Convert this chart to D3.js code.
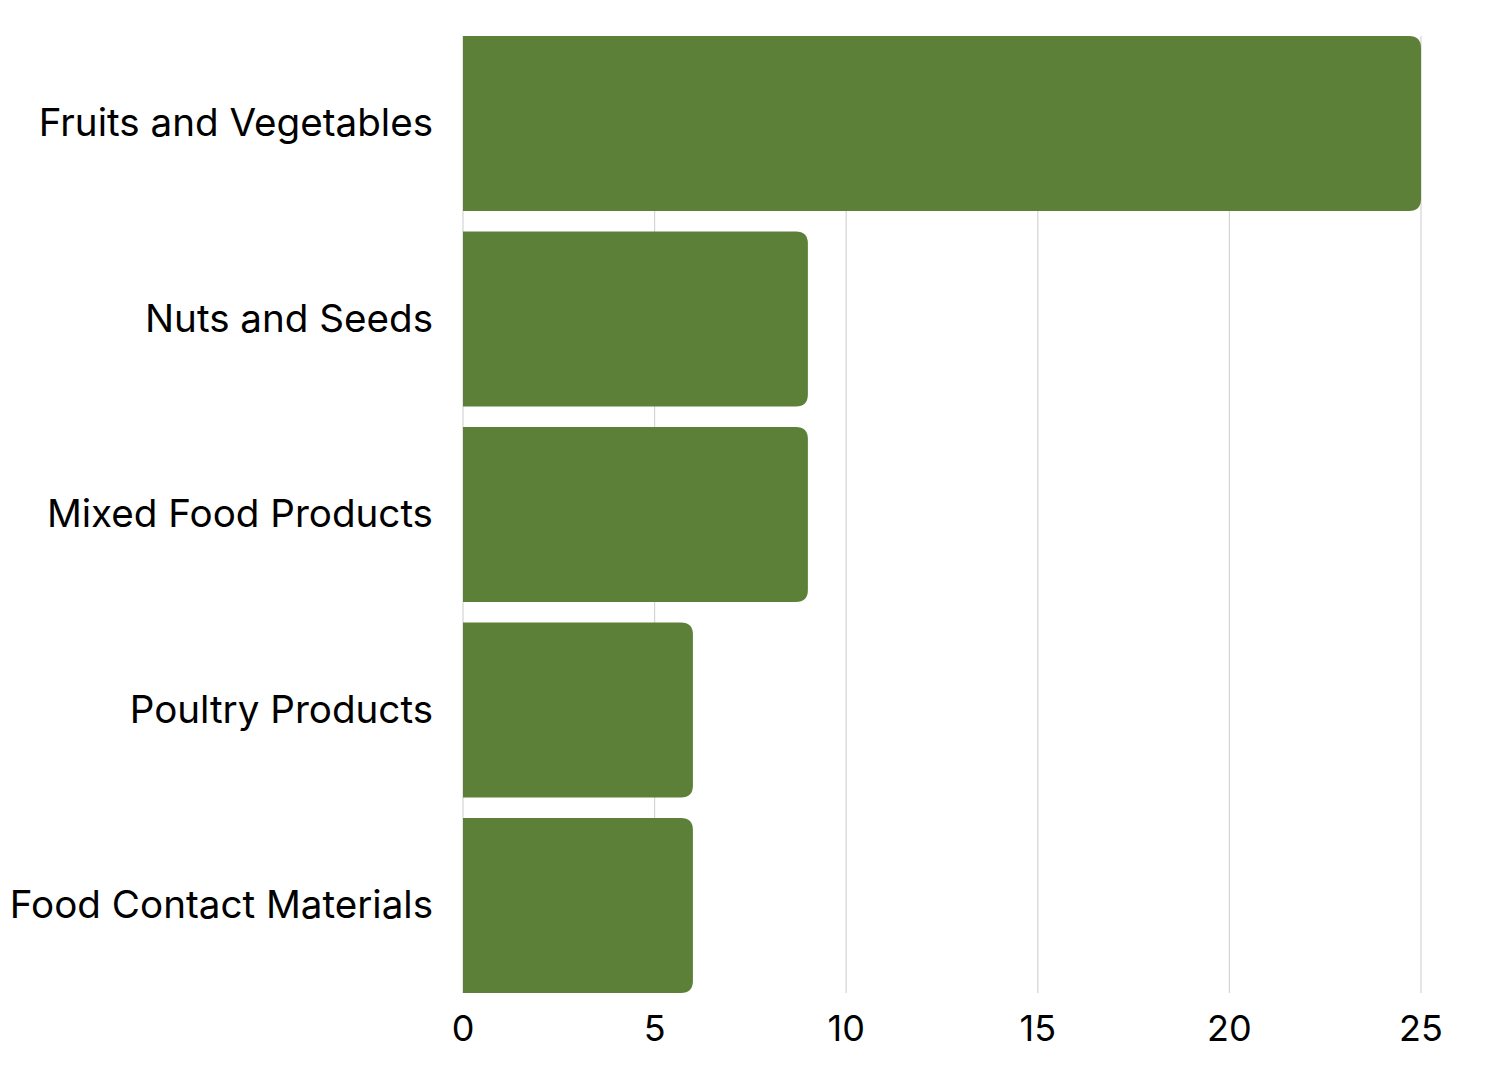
<!DOCTYPE html>
<html>
<head>
<meta charset="utf-8">
<script src="https://cdn.jsdelivr.net/npm/d3@7"></script>
<style>
  body { margin: 0; background: #fff; }
  text { font-family: Inter, "Noto Sans", sans-serif; fill: #000; }
</style>
</head>
<body>
<svg id="chart" width="1485" height="1080"></svg>
<script>
const categories = ['Fruits and Vegetables', 'Nuts and Seeds', 'Mixed Food Products', 'Poultry Products', 'Food Contact Materials'];
const counts = [25, 9, 9, 6, 6];
const xTicks = [0, 5, 10, 15, 20, 25];

const svg = d3.select('#chart');
const margin = { top: 36, right: 64, bottom: 87, left: 463 };
const width = 1485 - margin.left - margin.right;
const height = 1080 - margin.top - margin.bottom;

const g = svg.append('g').attr('transform', `translate(${margin.left},${margin.top})`);

const x = d3.scaleLinear().domain([0, 25]).range([0, width]);
const y = d3.scaleBand().domain(categories).range([0, height]).paddingInner(0.105).paddingOuter(0);

// gridlines
g.selectAll('line.grid')
  .data(xTicks)
  .enter()
  .append('line')
  .attr('class', 'grid')
  .attr('x1', d => x(d)).attr('x2', d => x(d))
  .attr('y1', 0).attr('y2', height)
  .attr('stroke', '#d4d4d4')
  .attr('stroke-width', 1.2);

// bars: square on the left, rounded on the right
const r = 12;
function barPath(x0, x1, y0, h) {
  const rr = Math.min(r, (x1 - x0) / 2);
  return `M${x0},${y0}H${x1 - rr}Q${x1},${y0} ${x1},${y0 + rr}V${y0 + h - rr}Q${x1},${y0 + h} ${x1 - rr},${y0 + h}H${x0}Z`;
}

g.selectAll('path.bar')
  .data(categories)
  .enter()
  .append('path')
  .attr('class', 'bar')
  .attr('d', (d, i) => barPath(x(0), x(counts[i]), y(d), y.bandwidth()))
  .attr('fill', '#5d8039');

// category labels
g.selectAll('text.cat')
  .data(categories)
  .enter()
  .append('text')
  .attr('class', 'cat')
  .attr('x', -30)
  .attr('y', d => y(d) + y.bandwidth() / 2)
  .attr('dy', '0.33em')
  .attr('text-anchor', 'end')
  .style('font-size', '38.6px')
  .text(d => d);

// x tick labels
g.selectAll('text.tick')
  .data(xTicks)
  .enter()
  .append('text')
  .attr('class', 'tick')
  .attr('x', d => x(d))
  .attr('y', height + 48)
  .attr('text-anchor', 'middle')
  .style('font-size', '36px')
  .text(d => d);
</script>
</body>
</html>
